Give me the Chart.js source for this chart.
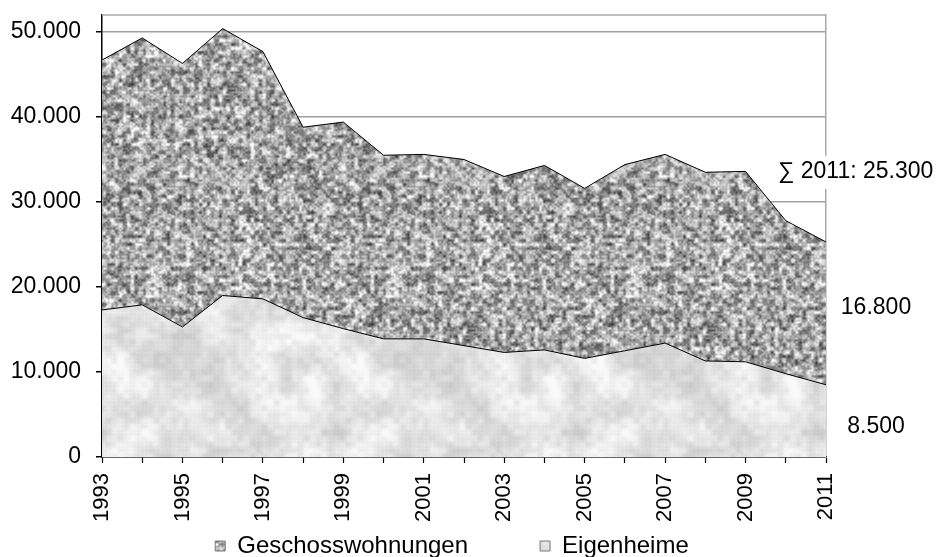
<!DOCTYPE html>
<html>
<head>
<meta charset="utf-8">
<script src="https://cdn.jsdelivr.net/npm/chart.js@4/dist/chart.umd.min.js"></script>
<style>
  body { margin: 0; background: #fff; }
  canvas { display: block; }
</style>
</head>
<body>
<canvas id="chart" width="937" height="557"></canvas>
<script>
const years = ['1993', '1994', '1995', '1996', '1997', '1998', '1999', '2000', '2001', '2002',
  '2003', '2004', '2005', '2006', '2007', '2008', '2009', '2010', '2011'];
const eigenheime = [17300, 17900, 15300, 19000, 18600, 16400, 15100, 13900, 13900, 13100,
  12300, 12600, 11600, 12500, 13400, 11300, 11200, 9800, 8500];
const geschoss = [29400, 31400, 31000, 31400, 29100, 22400, 24300, 21600, 21700, 21900,
  20700, 21700, 20000, 21900, 22200, 22200, 22400, 18000, 16800];
const yTickValues = [0, 10000, 20000, 30000, 40000, 50000];

const FONT = 'Liberation Sans, Arial, Helvetica, sans-serif';
const LEGEND_GAP = 72;

// number format 50.000
function fmt(v) {
  return String(v).replace(/\B(?=(\d{3})+(?!\d))/g, '.');
}

// seeded noise for the fill textures (style only)
function mulberry32(a) {
  return function () {
    a |= 0; a = a + 0x6D2B79F5 | 0;
    let t = Math.imul(a ^ a >>> 15, 1 | a);
    t = t + Math.imul(t ^ t >>> 7, 61 | t) ^ t;
    return ((t ^ t >>> 14) >>> 0) / 4294967296;
  };
}

function valueNoise(size, cell, rnd) {
  const g = size / cell;
  const grid = [];
  for (let i = 0; i < g * g; i++) grid.push(rnd());
  const at = (i, j) => grid[((j % g + g) % g) * g + ((i % g + g) % g)];
  return (x, y) => {
    const gx = x / cell, gy = y / cell;
    const x0 = Math.floor(gx), y0 = Math.floor(gy);
    let fx = gx - x0, fy = gy - y0;
    fx = fx * fx * (3 - 2 * fx);
    fy = fy * fy * (3 - 2 * fy);
    const a = at(x0, y0) + (at(x0 + 1, y0) - at(x0, y0)) * fx;
    const b = at(x0, y0 + 1) + (at(x0 + 1, y0 + 1) - at(x0, y0 + 1)) * fx;
    return a + (b - a) * fy;
  };
}

function makeTexture(size, shade) {
  const c = document.createElement('canvas');
  c.width = size;
  c.height = size;
  const cx = c.getContext('2d');
  const img = cx.createImageData(size, size);
  for (let y = 0; y < size; y++) {
    for (let x = 0; x < size; x++) {
      const v = Math.max(30, Math.min(250, shade(x, y)));
      const i = (y * size + x) * 4;
      img.data[i] = img.data[i + 1] = img.data[i + 2] = v;
      img.data[i + 3] = 255;
    }
  }
  cx.putImageData(img, 0, 0);
  return cx.createPattern(c, 'repeat');
}

const ctx = document.getElementById('chart').getContext('2d');

const rndA = mulberry32(7);
const dn1 = valueNoise(240, 4, rndA);
const dn2 = valueNoise(240, 2, rndA);
const darkFill = makeTexture(240, (x, y) => {
  let v = 170 + (dn1(x, y) - 0.5) * 150 + (dn2(x, y) - 0.5) * 80;
  if (x % 3 === 0 || y % 3 === 0) v -= 5;
  return v;
});

const rndB = mulberry32(21);
const ln1 = valueNoise(240, 24, rndB);
const ln2 = valueNoise(240, 6, rndB);
const lightFill = makeTexture(240, (x, y) => {
  let v = 228 + (ln1(x, y) - 0.5) * 40 + (ln2(x, y) - 0.5) * 22;
  if (x % 4 === 0 && y % 4 === 0) v += 10;
  return v;
});

// top frame line, value notes on the right, legend placement
const notes = {
  id: 'notes',
  beforeDatasetsDraw(chart) {
    const { ctx, chartArea } = chart;
    ctx.save();
    ctx.strokeStyle = '#a8a8a8';
    ctx.lineWidth = 1.5;
    ctx.beginPath();
    ctx.moveTo(chartArea.left, chartArea.top);
    ctx.lineTo(chartArea.right, chartArea.top);
    ctx.stroke();
    ctx.restore();
  },
  afterDraw(chart) {
    const { ctx } = chart;
    const y = chart.scales.y;
    const x = chart.scales.x;
    const last = years.length - 1;
    const lowVal = eigenheime[last];
    const highVal = geschoss[last];
    const xr = x.getPixelForValue(last);

    ctx.save();
    ctx.font = '23px ' + FONT;
    ctx.fillStyle = '#000';
    ctx.textBaseline = 'middle';

    const sumText = '∑ ' + years[last] + ': ' + fmt(lowVal + highVal);
    const sy = y.getPixelForValue(lowVal + highVal) - 70;
    const sx = xr - 48;
    const w = ctx.measureText(sumText).width;
    ctx.fillStyle = '#fff';
    ctx.fillRect(sx - 3, sy - 16, w + 6, 33);
    ctx.fillStyle = '#000';
    ctx.textAlign = 'left';
    ctx.fillText(sumText, sx, sy);

    ctx.textAlign = 'center';
    ctx.fillText(fmt(highVal), xr + 50, y.getPixelForValue(lowVal + highVal / 2) - 6);
    ctx.fillText(fmt(lowVal), xr + 50, y.getPixelForValue(lowVal / 2) + 6);
    ctx.restore();
  },
  beforeUpdate(chart) {
    const lg = chart.legend;
    if (lg && !lg._fixed) {
      const fit = lg.fit;
      lg.fit = function () {
        fit.call(this);
        this.height = 30;
      };
      // labels.padding sets the gap between the two items; pull the row back up
      const draw = lg.draw;
      lg.draw = function () {
        const shift = LEGEND_GAP - 7;
        this.top -= shift;
        draw.call(this);
        this.top += shift;
      };
      lg._fixed = true;
    }
  }
};

const chart = new Chart(ctx, {
  type: 'line',
  data: {
    labels: years,
    datasets: [
      {
        label: 'Eigenheime',
        data: eigenheime,
        fill: 'origin',
        backgroundColor: lightFill,
        borderColor: '#000',
        borderWidth: 1,
        pointRadius: 0,
        tension: 0
      },
      {
        label: 'Geschosswohnungen',
        data: geschoss,
        fill: '-1',
        backgroundColor: darkFill,
        borderColor: '#000',
        borderWidth: 1,
        pointRadius: 0,
        tension: 0
      }
    ]
  },
  options: {
    responsive: false,
    animation: false,
    layout: { padding: { top: 15, right: 33, left: 0, bottom: 0 } },
    plugins: {
      tooltip: { enabled: false },
      legend: {
        position: 'bottom',
        reverse: true,
        labels: {
          font: { family: FONT, size: 24 },
          color: '#000',
          boxWidth: 10,
          boxHeight: 10,
          padding: LEGEND_GAP,
          generateLabels(chart) {
            return Chart.defaults.plugins.legend.labels.generateLabels(chart)
              .map(item => Object.assign(item, { strokeStyle: '#777', lineWidth: 1 }));
          }
        }
      }
    },
    scales: {
      x: {
        type: 'category',
        offset: false,
        grid: { drawOnChartArea: false, drawTicks: true, tickLength: 6, tickColor: '#000', tickWidth: 1.2 },
        border: { color: '#000', width: 1.5 },
        ticks: {
          autoSkip: false,
          maxRotation: 90,
          minRotation: 90,
          padding: 10,
          color: '#000',
          font: { family: FONT, size: 22 },
          callback: (v, i) => (i % 2 === 0 ? years[i] : '')
        },
        afterFit(scale) { scale.height = 70; }
      },
      y: {
        stacked: true,
        min: 0,
        max: 52000,
        grid: { color: '#a0a0a0', lineWidth: 1.5, tickLength: 6, tickColor: '#000' },
        border: { color: '#000', width: 1.5 },
        ticks: {
          padding: 15,
          color: '#000',
          font: { family: FONT, size: 23 },
          callback: v => fmt(v)
        },
        afterBuildTicks(scale) { scale.ticks = yTickValues.map(v => ({ value: v })); },
        afterFit(scale) {
          scale.width = 102;
          scale.paddingTop = 0;
          scale.paddingBottom = 0;
        }
      },
      frame: {
        type: 'linear',
        position: 'right',
        min: 0,
        max: 1,
        grid: { drawOnChartArea: false, drawTicks: false },
        border: { color: '#a8a8a8', width: 1.5 },
        ticks: { display: false },
        afterFit(scale) { scale.width = 78; }
      }
    }
  },
  plugins: [notes]
});
</script>
</body>
</html>
